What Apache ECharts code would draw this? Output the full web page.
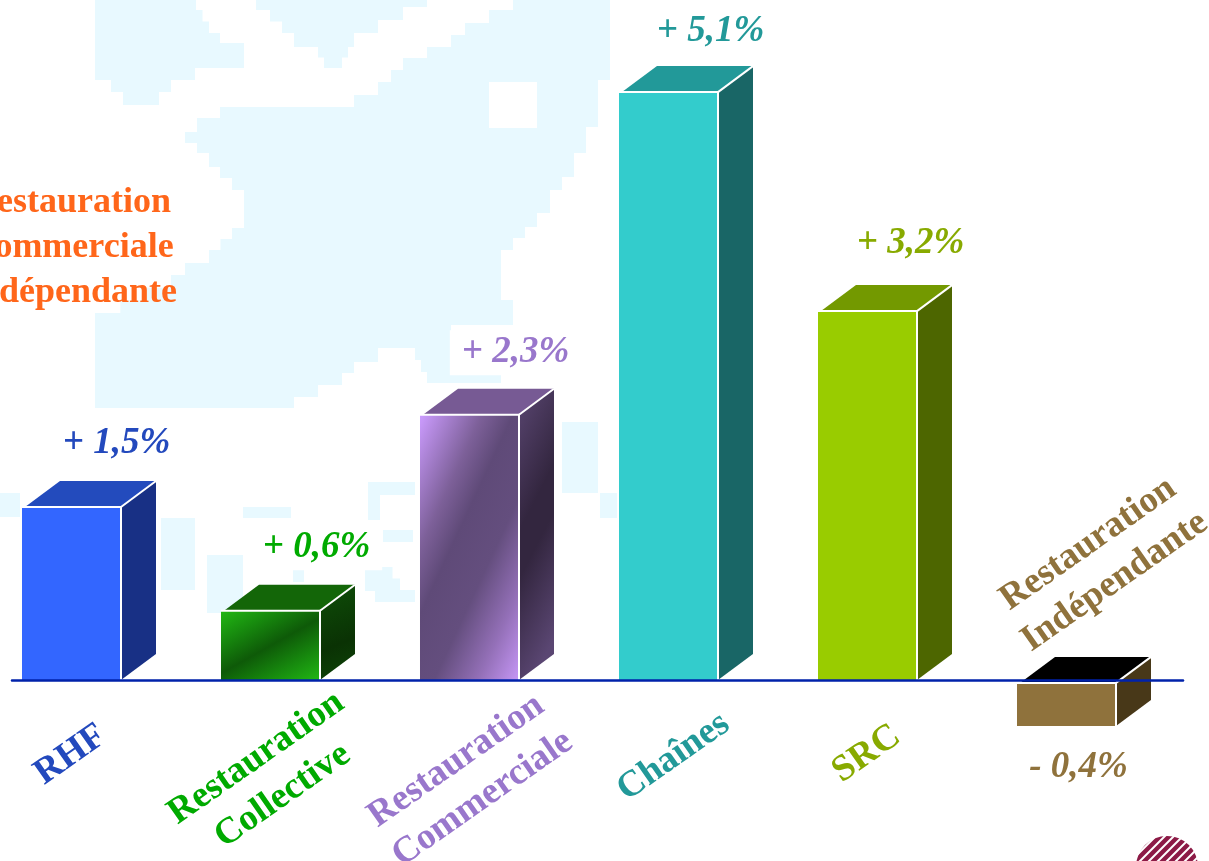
<!DOCTYPE html>
<html>
<head>
<meta charset="utf-8">
<style>html,body{margin:0;padding:0;background:#fff}#chart{width:1209px;height:861px;overflow:hidden}</style>
<script src="https://cdn.jsdelivr.net/npm/echarts@6/dist/echarts.min.js"></script>
</head>
<body>
<div id="chart"></div>
<script>
// Growth of each catering segment, in percent
const categories = ['RHF', 'Restauration\nCollective', 'Restauration\nCommerciale', 'Chaînes', 'SRC', 'Restauration\nIndépendante'];
const growth = [1.5, 0.6, 2.3, 5.1, 3.2, -0.4];
const valueLabels = ['+ 1,5%', '+ 0,6%', '+ 2,3%', '+ 5,1%', '+ 3,2%', '- 0,4%'];
const sideHeading = 'Restauration\nCommerciale\nIndépendante';

// Text colour per segment
const textColors = ['#2349bd', '#00aa00', '#9977cc', '#229999', '#88aa00', '#8f723c'];

// Box faces
function sheen(x2, y2, stops) {
  return { type: 'linear', x: 0, y: 0, x2: x2, y2: y2, colorStops: stops.map(s => ({ offset: s[0], color: s[1] })) };
}
const frontFaces = [
  '#3366ff',
  sheen(0.54, 1.38, [[0, '#22b814'], [0.25, '#178a0e'], [0.5, '#0e5a08'], [0.75, '#178a0e'], [1, '#22b814']]),
  sheen(1.84, 0.32, [[0, '#cc9cff'], [0.28, '#7d6099'], [0.42, '#5f4a78'], [0.62, '#644e7e'], [0.82, '#9470b8'], [1, '#c596f5']]),
  '#33cccc', '#99cc00', '#8f723c'
];
const topFaces = ['#234bbd', '#136608', '#775a94', '#229999', '#739900', '#000000'];
const sideFaces = [
  '#183085',
  sheen(1.2, 1.1, [[0, '#0e4e08'], [0.55, '#0a3204'], [1, '#0e4a08']]),
  sheen(3.7, 0.23, [[0, '#5a4672'], [0.45, '#33263f'], [0.6, '#33263f'], [1, '#5a4672']]),
  '#196666', '#4d6600', '#483818'
];

// Layout of the boxes and their captions, in pixels
const DEPTH_X = 35, DEPTH_Y = 26, BAR_RATIO = 0.4975;
const valueOffsets = [[45, -64], [46, -63], [46, -62], [42, -61], [43, -68], [12, 41]];
const captionOffsets = [[-1, 75], [-1, 97], [0, 100], [5, 77], [-1, 74], [35, -117]];
const CAPTION_ANGLE = 35 * Math.PI / 180;

function renderBox(params, api) {
  const i = api.value(0), v = api.value(1);
  const zero = api.coord([i, 0]);
  const end = api.coord([i, v]);
  const w = api.size([1, 0])[0] * BAR_RATIO;
  const xl = zero[0] - w / 2, xr = zero[0] + w / 2;
  // A negative box hangs just clear of the axis
  const yt = v < 0 ? zero[1] + 3 : end[1];
  const yb = v < 0 ? end[1] : zero[1];
  const edge = { stroke: '#ffffff', lineWidth: 2 };
  const vo = valueOffsets[i], co = captionOffsets[i];
  return {
    type: 'group',
    children: [
      { type: 'polygon', shape: { points: [[xl + 3, yt], [xl + DEPTH_X + 3, yt - DEPTH_Y], [xr + DEPTH_X, yt - DEPTH_Y], [xr, yt]] },
        style: { fill: topFaces[i] } },
      { type: 'polygon', shape: { points: [[xr, yt], [xr + DEPTH_X, yt - DEPTH_Y], [xr + DEPTH_X, yb - DEPTH_Y], [xr, yb]] },
        style: { fill: sideFaces[i] } },
      { type: 'rect', shape: { x: xl, y: yt, width: w, height: yb - yt },
        style: { fill: frontFaces[i] } },
      { type: 'polyline', shape: { points: [[xl, yt], [xr, yt], [xr, yb]] }, style: Object.assign({ fill: 'none' }, edge) },
      { type: 'line', shape: { x1: xr, y1: yt, x2: xr + DEPTH_X, y2: yt - DEPTH_Y }, style: edge },
      { type: 'text', x: zero[0] + vo[0], y: (v < 0 ? yb : yt) + vo[1],
        style: { text: valueLabels[i], fill: textColors[i], align: 'center', verticalAlign: 'middle',
          font: 'italic bold 37px "Liberation Serif"', backgroundColor: (i === 1 || i === 2) ? '#ffffff' : 'transparent', padding: [4, 12, 4, 12] } },
      { type: 'text', x: zero[0] + co[0], y: zero[1] + co[1], rotation: CAPTION_ANGLE,
        style: { text: categories[i], fill: textColors[i], align: 'center', verticalAlign: 'middle',
          font: 'bold 37px "Liberation Serif"', lineHeight: 46 } }
    ]
  };
}

// Pale world map behind the chart, drawn in blocky steps
const MAP_FILL = '#e8f9ff';
const mapPieces = [
  [[95,0],[183,0],[196,10],[209,33],[220,43],[244,57],[244,68],[195,80],[171,92],[159,105],[135,105],[123,92],[111,80],[95,68]],
  [[256,0],[427,0],[427,7],[403,20],[378,33],[354,47],[342,68],[330,68],[318,47],[294,33],[270,10]],
  [[513,0],[610,0],[610,80],[598,80],[598,127],[586,130],[586,153],[574,153],[574,177],[562,177],[562,190],[550,200],[550,213],[537,217],[537,227],[525,238],[513,250],[501,252],[501,300],[513,302],[513,325],[451,325],[451,370],[501,372],[501,383],[439,383],[427,372],[415,348],[391,348],[378,362],[354,373],[342,385],[318,397],[294,408],[123,408],[95,397],[95,313],[171,275],[185,263],[209,250],[232,228],[244,215],[244,190],[232,178],[220,167],[209,153],[197,143],[185,132],[197,118],[220,107],[354,107],[354,95],[378,82],[391,70],[403,58],[427,47],[451,35],[465,23],[489,10]],
  [[161,518],[195,518],[195,590],[161,590]],
  [[207,555],[243,555],[243,613],[207,613]],
  [[243,507],[291,507],[291,518],[243,518]],
  [[293,567],[304,567],[304,582],[293,582]],
  [[383,530],[413,530],[413,542],[383,542]],
  [[365,567],[385,567],[400,590],[415,590],[415,602],[385,602],[365,580]],
  [[368,482],[415,482],[415,495],[380,495],[380,520],[368,520]],
  [[562,422],[598,422],[598,493],[562,493]],
  [[600,493],[617,493],[617,518],[600,518]],
  [[0,493],[20,493],[20,517],[0,517]]
];
const MAP_STEP = 12;
function blocky(points) {
  const out = [];
  points.forEach((p, k) => {
    const q = points[(k + 1) % points.length];
    const n = Math.max(1, Math.round(Math.abs(q[1] - p[1]) / MAP_STEP));
    const sloped = q[0] !== p[0] && q[1] !== p[1];
    if (!sloped) { out.push(p); return; }
    for (let s = 0; s < n; s++) {
      const x = p[0] + (q[0] - p[0]) * s / n, y = p[1] + (q[1] - p[1]) * s / n;
      out.push([x, y], [x + (q[0] - p[0]) / n, y]);
    }
  });
  return out;
}

// Striped disc of the publisher's mark, cut off by the page edge
const markStripes = [-50, -41, -32, -23, -14, -5, 4, 13, 22, 31, 40, 49].map(d => ({
  type: 'line', silent: true, z: 3,
  shape: { x1: 1167 + d - 32, y1: 866 + 32, x2: 1167 + d + 32, y2: 866 - 32 },
  style: { stroke: '#ffffff', lineWidth: 2 }
}));

const chart = echarts.init(document.getElementById('chart'), null, { renderer: 'canvas' });
chart.setOption({
  animation: false,
  backgroundColor: '#ffffff',
  grid: [
    { left: -28, width: 1194, top: 46, height: 749.15, outerBoundsMode: 'none' },
    { left: 12, width: 1171, top: 46, height: 749.15, outerBoundsMode: 'none' }
  ],
  xAxis: [
    { type: 'category', data: categories, gridIndex: 0, axisLine: { show: false }, axisTick: { show: false }, axisLabel: { show: false } },
    { type: 'value', gridIndex: 1, min: 0, max: 1, z: 6, splitLine: { show: false }, axisTick: { show: false }, axisLabel: { show: false },
      axisLine: { show: true, onZero: true, lineStyle: { color: '#0022aa', width: 2.5 } } }
  ],
  yAxis: [
    { type: 'value', gridIndex: 0, min: -1, max: 5.5, show: false },
    { type: 'value', gridIndex: 1, min: -1, max: 5.5, show: false }
  ],
  series: [{
    type: 'custom',
    xAxisIndex: 0, yAxisIndex: 0,
    clip: false,
    renderItem: renderBox,
    encode: { x: 0, y: 1 },
    data: growth.map((v, i) => [i, v])
  }],
  graphic: [
    ...mapPieces.map(p => ({ type: 'polygon', silent: true, z: -10, shape: { points: blocky(p) }, style: { fill: MAP_FILL } })),
    { type: 'rect', silent: true, z: -9, shape: { x: 489, y: 82, width: 48, height: 46 }, style: { fill: '#ffffff' } },
    { type: 'text', silent: true, z: 3, x: 71, y: 248,
      style: { text: sideHeading, fill: '#ff661a', align: 'center', verticalAlign: 'middle', font: 'bold 36px "Liberation Serif"', lineHeight: 45 } },
    { type: 'circle', silent: true, z: 2, shape: { cx: 1167, cy: 867, r: 31 }, style: { fill: '#8c1a46' } },
    ...markStripes
  ]
});
</script>
</body>
</html>
